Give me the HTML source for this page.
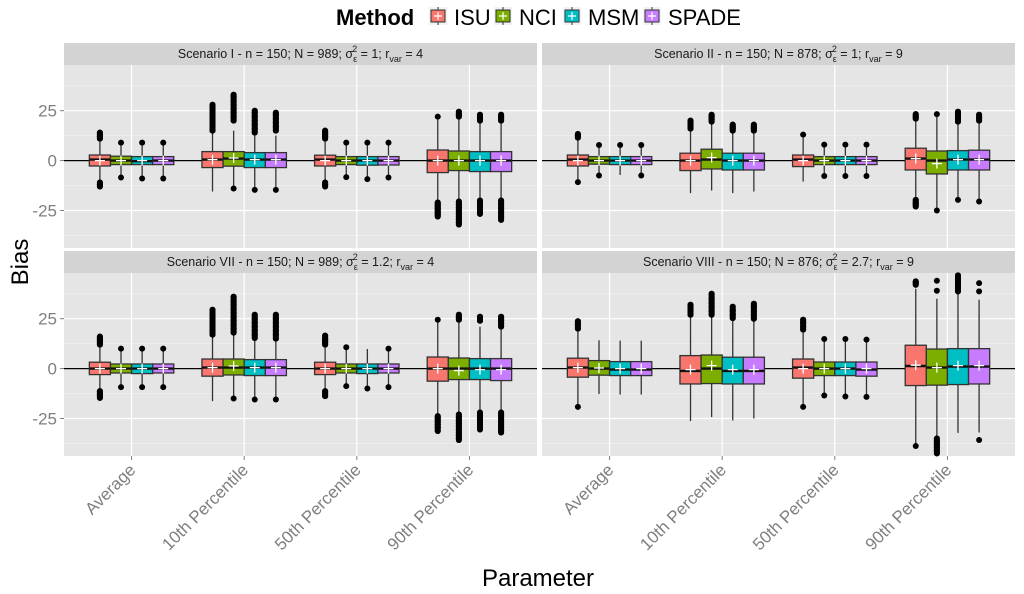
<!DOCTYPE html>
<html><head><meta charset="utf-8">
<style>
html,body{margin:0;padding:0;background:#fff;}
svg{display:block;font-family:"Liberation Sans",Arial,sans-serif;}
</style></head>
<body>
<svg id="chart" width="1024" height="594" viewBox="0 0 1024 594" xmlns="http://www.w3.org/2000/svg">
  <g id="legend">
    <text x="336" y="25" font-size="22" font-weight="bold" fill="#000">Method</text>
  </g>
  <text x="28" y="262" font-size="24" fill="#000" text-anchor="middle" transform="rotate(-90 28 262)">Bias</text>
  <text x="538" y="586" font-size="24" fill="#000" text-anchor="middle">Parameter</text>
  <g id="panels"></g>
</svg>
<script>
const methods = ["ISU","NCI","MSM","SPADE"];
const colors = ["#F8766D","#7CAE00","#00BFC4","#C77CFF"];
const categories = ["Average","10th Percentile","50th Percentile","90th Percentile"];
const yTicks = [-25,0,25];
const yTickLabels = ["-25","0","25"];
const panelTitles = [
  ["Scenario I - n = 150; N = 989; ","1","4"],
  ["Scenario II - n = 150; N = 878; ","1","9"],
  ["Scenario VII - n = 150; N = 989; ","1.2","4"],
  ["Scenario VIII - n = 150; N = 876; ","2.7","9"]
];
// [panel][category][method]
const lower = [
 [[-10,-8,-8,-8],[-15.5,-13,-13.5,-13.5],[-10,-8,-9,-8.5],[-20,-19.5,-19,-19]],
 [[-10,-7.5,-7.2,-7.5],[-16.3,-15,-16.3,-15.5],[-10.5,-7.7,-7.7,-7.7],[-19,-25,-19.7,-20.5]],
 [[-11,-9.3,-9.3,-9.3],[-16.3,-15,-15.5,-15.5],[-11,-8.8,-10,-9.3],[-23,-23,-22,-22]],
 [[-19.2,-12.7,-13,-13],[-26.3,-24.3,-26,-25],[-19.2,-13.5,-14,-14.2],[-38.8,-34.7,-32.2,-32]]
];
const q1 = [
 [[-2.7,-2,-2,-2],[-3.5,-2.8,-3.5,-3.5],[-2.7,-2,-2.3,-2.2],[-6,-5,-5.5,-5.5]],
 [[-2.7,-1.8,-2,-2],[-5,-4.2,-4.7,-4.7],[-3,-2,-2,-2],[-4.7,-6.7,-4.7,-4.7]],
 [[-3,-2.2,-2.5,-2.2],[-3.8,-3.2,-3.5,-3.5],[-3,-2.2,-2.5,-2.2],[-6.3,-5.5,-5.5,-6]],
 [[-4.3,-3.3,-3.5,-3.5],[-7.7,-7.5,-7.7,-7.7],[-4.8,-3.5,-3.5,-3.8],[-8.5,-8.3,-8,-7.7]]
];
const median = [
 [[0.5,0,-0.3,0],[0.5,1,0.5,0.5],[0.5,0,0,0],[0,0,0,0]],
 [[0.5,0,0,0],[0,0.5,0,0],[0.5,0,0,0],[1,0,0.5,0.5]],
 [[0,0,0,0],[0.5,0.5,0.5,0.5],[0,0,0,0],[0,0,0,0]],
 [[0.5,0,-0.5,-0.5],[-1.2,0,-1.2,-1.2],[0.5,0,0,-0.5],[1.3,0.5,1,1]]
];
const q3 = [
 [[2.8,2.2,2,2],[4.5,4.5,4,4],[2.7,2,2,2],[5.3,4.8,4.5,4.5]],
 [[2.8,2,2,2],[3.7,5.7,3.7,3.7],[2.8,2,2,2],[6.2,4.8,5,5.2]],
 [[3.2,2.3,2.3,2.3],[4.8,4.8,4.5,4.5],[3.2,2.3,2.3,2.3],[5.8,5.3,5,5]],
 [[5.2,4,3.5,3.5],[6.5,6.8,5.7,5.7],[4.8,3.3,3.3,3.3],[11.7,9.8,10,10]]
];
const upper = [
 [[10.5,8,8,8],[14,15,12.5,12.5],[10.5,8,8,8],[21.5,21.5,19,19]],
 [[11,7.8,7.8,7.8],[16,19,15,15],[11.5,7.8,7.8,7.8],[21,23.3,19.5,20]],
 [[11.5,10,10,10],[17,17,15,15],[11.5,10.7,9.8,10],[24.5,24.5,21,21]],
 [[19,14.2,14,14],[26,26,25,25],[18,14.8,14.8,14.5],[40,35,38,34.5]]
];
const meanVal = [
 [[0,0,0,0],[0.5,1.3,0.5,0.5],[0,0,0,0],[0,0,0,0]],
 [[0,0,0,0],[0,1.5,0,0],[0,0,0,0],[1,-1.5,0.5,0.5]],
 [[0,0,0,0],[0.5,1.3,0.5,0.5],[0,0,0,0],[0,-1,-0.5,-0.5]],
 [[0.5,0.3,0,0],[-0.5,1.5,-0.5,-0.5],[0,0,0,0],[1.7,0.5,1.5,1.5]]
];
const outliers = [
 [[[11,12,13,14,-11,-12,-13],[9,-8.5],[9,-9],[9,-9]],
  [[15,17,19,21,23,25,27,28],[20,22,24,26,28,30,32,33,-14],[14,16,18,20,22,24,25,-14.7],[15,17,19,21,23,24,-14.7]],
  [[11,12,13,14,15,-11,-12,-13],[9,-8.3],[9,-9.3],[9,-8.5]],
  [[22,-21,-22,-23,-24,-25,-26,-27,-28],[22,23,24.5,-20.5,-22,-23.5,-25,-26.5,-28,-29.5,-31,-32],[20,21,22,23,-20,-21.5,-23,-24.5,-26,-26.7],[20,21,22,23,-20,-22,-24,-26,-28,-29.7]]],
 [[[11.5,12.5,13.3,-10.8],[7.8,-7.5],[7.8],[7.8,-7.5]],
  [[16,17,18,19,20],[19.5,20.5,21.5,22.5,23],[15,16,17,18],[15,16,17,18]],
  [[13],[8,-7.7],[8,-7.7],[8,-7.7]],
  [[21,22,23.3,-19.7,-21,-22,-23],[23.3,-25],[19.5,20.5,21.5,23,24.5,-19.7],[20,21.5,23,-20.5]]],
 [[[12,13,14,15,16,-11.3,-12.5,-13.5,-14.7],[10,-9.3],[10,-9.3],[10,-9.3]],
  [[17,19,21,23,25,27,29.5],[18,20,22,24,26,28,30,32,34,36,-15],[15.3,17,19,21,23,25,27,-15.5],[15,17,19,21,23,25,27,-15.5]],
  [[12,13,14,15,16.5,-11.3,-12.5,-13.8],[10.7,-8.8],[-10],[10,-9.3]],
  [[24.5,-23.8,-25,-26.5,-28,-29.5,-31.3],[24.5,25.5,27,-23,-24.5,-26,-27.5,-29,-30.5,-32,-33.5,-35,-35.8],[24,25,26,-22,-23.5,-25,-26.5,-28,-29.5,-30.5],[21,22.5,24,25,26,-22,-23.5,-25,-26.5,-28,-29.5,-31,-32]]],
 [[[20,22,23.7,-19.2],[],[],[]],
  [[27,28.5,30,31.5,32],[27,29,31,33,35,37.5],[25.3,27,29,31],[25,27,29,31,32.5]],
  [[19.5,21,23,24.5,-19.2],[14.8,-13.5],[14.8,-14],[14.5,-14.2]],
  [[42,43,43.7,-38.8],[39,44,-35,-36.5,-38,-39.5,-41,-42.5],[38.7,40.5,42.5,44.5,46.7],[38.7,42.8,-35.8]]]
];

const NS = "http://www.w3.org/2000/svg";
function mk(tag, attrs, parent){const e=document.createElementNS(NS,tag);for(const k in attrs)e.setAttribute(k,attrs[k]);if(parent)parent.appendChild(e);return e;}

const yMin=-43.8, yMax=47.9;
const panelW=473, panelH=183;
const layout=[{x:64,y:65},{x:542,y:65},{x:64,y:273},{x:542,y:273}];
const root=document.getElementById('panels');

layout.forEach((L,p)=>{
  const yS=v=>L.y+(yMax-v)/(yMax-yMin)*panelH;
  const unit=panelW/4.2;
  const xC=c=>L.x+(c+0.6)*unit;
  const g=mk('g',{},root);
  
  
  const strip=mk('rect',{x:L.x,y:L.y-22,width:panelW,height:22,fill:'#D3D3D3'},g);
  
  
  const st=mk('text',{x:L.x+panelW/2,y:L.y-7,'font-size':12.5,'text-anchor':'middle',fill:'#1a1a1a'},g);
  
  
  const T=panelTitles[p];
  const t1=mk('tspan',{},st);t1.textContent=T[0]+'σ';
  const t2=mk('tspan',{'font-size':9,dy:4},st);t2.textContent='ε';
  const t3=mk('tspan',{'font-size':9,dy:-10,dx:-5},st);t3.textContent='2';
  const t4=mk('tspan',{dy:6},st);t4.textContent=' = '+T[1]+'; r';
  const t5=mk('tspan',{'font-size':9,dy:4},st);t5.textContent='var';
  const t6=mk('tspan',{dy:-4},st);t6.textContent=' = '+T[2];
  const bg=mk('rect',{x:L.x,y:L.y,width:panelW,height:panelH,fill:'#E5E5E5'},g);
  
  
  [-37.5,-12.5,12.5,37.5].forEach(v=>{const ml=mk('line',{x1:L.x,x2:L.x+panelW,y1:yS(v),y2:yS(v),stroke:'#F2F2F2','stroke-width':0.6},g);
    
    });
  yTicks.forEach((v,i)=>{
    const gl=mk('line',{x1:L.x,x2:L.x+panelW,y1:yS(v),y2:yS(v),stroke:'#FFFFFF','stroke-width':1.2},g);
    
    
    if(L.x<100){
      const tk=mk('line',{x1:L.x-4,x2:L.x,y1:yS(v),y2:yS(v),stroke:'#7F7F7F','stroke-width':1},g);
      
      
      const tl=mk('text',{x:L.x-7,y:yS(v)+6,'font-size':17,'text-anchor':'end',fill:'#7F7F7F'},g);
      
      
      tl.textContent=yTickLabels[i];
    }
  });
  categories.forEach((cat,c)=>{
    const vl=mk('line',{x1:xC(c),x2:xC(c),y1:L.y,y2:L.y+panelH,stroke:'#FFFFFF','stroke-width':1.2},g);
    
    
    if(p>=2){
      const tk=mk('line',{x1:xC(c),x2:xC(c),y1:L.y+panelH,y2:L.y+panelH+4,stroke:'#7F7F7F','stroke-width':1},g);
      
      
      const tx=xC(c)+5, ty=L.y+panelH+15;
      const tl=mk('text',{x:tx,y:ty,'font-size':17,'text-anchor':'end',fill:'#7F7F7F',transform:'rotate(-45 '+tx+' '+ty+')'},g);
      
      
      tl.textContent=cat;
    }
  });
  const hl=mk('line',{x1:L.x,x2:L.x+panelW,y1:yS(0),y2:yS(0),stroke:'#000','stroke-width':1.2},g);
  
  
  const bw=0.75*unit/4;
  categories.forEach((cat,c)=>{
    methods.forEach((m,k)=>{
      const cx=xC(c)+(k-1.5)*bw;
      const bg2=mk('g',{},g);
      
      
      const wk=mk('line',{x1:cx,x2:cx,y1:yS(lower[p][c][k]),y2:yS(upper[p][c][k]),stroke:'#333','stroke-width':1.3},bg2);
      
      
      const outs=outliers[p][c][k];
      for(let i=1;i<outs.length;i++){
        const a=outs[i-1], b=outs[i];
        if(Math.sign(a)===Math.sign(b) && Math.abs(a-b)<=2.6){
          const cl=mk('line',{x1:cx,x2:cx,y1:yS(a),y2:yS(b),stroke:'#000','stroke-width':6,'stroke-linecap':'round'},bg2);
          
          
        }
      }
      outs.forEach(v=>{
        const o=mk('circle',{cx:cx,cy:yS(v),r:3,fill:'#000'},bg2);
        
        
      });
      const top=yS(q3[p][c][k]), bot=yS(q1[p][c][k]);
      const r=mk('rect',{x:cx-bw/2,y:top,width:bw,height:Math.max(1,bot-top),fill:colors[k],stroke:'#333','stroke-width':1.3},bg2);
      
      
      const md=mk('line',{x1:cx-bw/2,x2:cx+bw/2,y1:yS(median[p][c][k]),y2:yS(median[p][c][k]),stroke:'#111','stroke-width':2.4},bg2);
      
      
      const my=yS(meanVal[p][c][k]);
      const mp=mk('path',{d:`M${cx-5},${my}H${cx+5}M${cx},${my-5}V${my+5}`,stroke:'#FFFFFF','stroke-width':1.3},bg2);
      
      
    });
  });
});

const leg=document.getElementById('legend');
const keyX=[429,494,563,643];
methods.forEach((m,k)=>{
  const kg=mk('g',{},leg);
  
  
  const bk=mk('rect',{x:keyX[k],y:7,width:18,height:18,fill:'#F2F2F2'},kg);
  
  
  const wl=mk('line',{x1:keyX[k]+9,x2:keyX[k]+9,y1:7,y2:25,stroke:'#333','stroke-width':1},kg);
  
  
  const kr=mk('rect',{x:keyX[k]+2,y:10,width:14,height:12,fill:colors[k],stroke:'#333','stroke-width':1},kg);
  
  
  const kp=mk('path',{d:`M${keyX[k]+5},16H${keyX[k]+13}M${keyX[k]+9},12V20`,stroke:'#fff','stroke-width':1.2},kg);
  
  
  const kt=mk('text',{x:keyX[k]+25,y:25,'font-size':22,fill:'#000'},kg);
  
  
  kt.textContent=m;
});
</script>
</body></html>
